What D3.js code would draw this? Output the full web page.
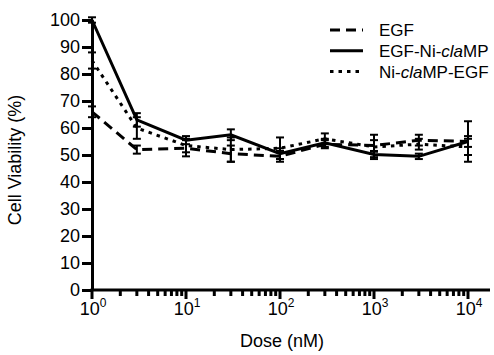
<!DOCTYPE html>
<html>
<head>
<style>
  body { margin: 0; background: #fff; }
  text { font-family: "Liberation Sans", Arial, sans-serif; fill: #000; }
</style>
<script src="https://d3js.org/d3.v7.min.js"></script>
</head>
<body>
<script>
// doses (nM), half-log steps
const doses = [1, 3, 10, 30, 100, 300, 1000, 3000, 10000];

const egf      = [66, 52, 52.5, 50.5, 49.5, 54, 53.5, 55.5, 55];
const egfErr   = [2, 1.5, 3, 3, 2, 1.5, 2, 2, 2];
const egfNi    = [100, 63, 55.5, 57.5, 50.5, 54.5, 50.2, 49.5, 55];
const egfNiErr = [1, 2.5, 1.5, 2, 2, 1.5, 1, 1, 7.5];
const niEgf    = [85, 60, 53.5, 52, 52.5, 56, 53, 54, 53];
const niEgfErr = [3, 4, 2.5, 4.5, 4, 2, 4.5, 2, 3];

const yTicks = [0, 10, 20, 30, 40, 50, 60, 70, 80, 90, 100];
const xTicks = [1, 10, 100, 1000, 10000];

const series = [
  { name: 'EGF', vals: egf, err: egfErr, dash: '10,6' },
  { name: 'EGF-Ni-claMP', vals: egfNi, err: egfNiErr, dash: null },
  { name: 'Ni-claMP-EGF', vals: niEgf, err: niEgfErr, dash: '3.5,5' }
];

const width = 494, height = 355;
const svg = d3.select('body').append('svg')
  .attr('width', width).attr('height', height);

const x = d3.scaleLog().domain([1, 10000]).range([92, 468]);
const y = d3.scaleLinear().domain([0, 100]).range([290, 20]);

// plot lines
const line = d3.line().x((d, i) => x(doses[i])).y(d => y(d));
series.forEach(s => {
  svg.append('path')
    .datum(s.vals)
    .attr('d', line)
    .attr('fill', 'none')
    .attr('stroke', '#000')
    .attr('stroke-width', 3)
    .attr('stroke-dasharray', s.dash);
  // error bars
  const g = svg.append('g').attr('stroke', '#000').attr('stroke-width', 2);
  s.vals.forEach((v, i) => {
    const cx = x(doses[i]);
    const lo = y(v - s.err[i]), hi = y(v + s.err[i]);
    g.append('line').attr('x1', cx).attr('x2', cx).attr('y1', lo).attr('y2', hi);
    g.append('line').attr('x1', cx - 4).attr('x2', cx + 4).attr('y1', lo).attr('y2', lo);
    g.append('line').attr('x1', cx - 4).attr('x2', cx + 4).attr('y1', hi).attr('y2', hi);
  });
});

// y axis
const yAxis = svg.append('g').attr('transform', 'translate(92,0)')
  .call(d3.axisLeft(y).tickValues(yTicks).tickSize(10).tickSizeOuter(0).tickPadding(2));
yAxis.select('.domain').attr('stroke-width', 3);
yAxis.selectAll('.tick line').attr('stroke-width', 3);
yAxis.selectAll('.tick text').style('font-size', '18px');

// x axis: minor ticks then major
const minor = [];
for (let e = 0; e < 4; e++) for (let m = 2; m <= 9; m++) minor.push(m * Math.pow(10, e));
const xg = svg.append('g').attr('transform', 'translate(0,290)');
xg.append('line').attr('x1', 90.5).attr('x2', 490).attr('y1', 0).attr('y2', 0)
  .attr('stroke', '#000').attr('stroke-width', 3);
xg.selectAll('.minor').data(minor).enter().append('line')
  .attr('x1', d => x(d)).attr('x2', d => x(d)).attr('y1', 0).attr('y2', 6)
  .attr('stroke', '#000').attr('stroke-width', 3);
xg.selectAll('.major').data(xTicks).enter().append('line')
  .attr('x1', d => x(d)).attr('x2', d => x(d)).attr('y1', 0).attr('y2', 9)
  .attr('stroke', '#000').attr('stroke-width', 3);
const lab = xg.selectAll('.lab').data(xTicks).enter().append('text')
  .attr('x', d => x(d) + 1).attr('y', 25)
  .attr('text-anchor', 'middle').style('font-size', '18px');
lab.append('tspan').text('10');
lab.append('tspan').attr('dy', -8).style('font-size', '12px').text(d => Math.round(Math.log10(d)));

// axis titles
svg.append('text').attr('x', 282).attr('y', 347).attr('text-anchor', 'middle')
  .style('font-size', '18px').text('Dose (nM)');
svg.append('text').attr('transform', 'translate(21,160) rotate(-90)')
  .attr('text-anchor', 'middle').style('font-size', '18px').text('Cell Viability (%)');

// legend
const leg = svg.append('g');
series.forEach((s, i) => {
  const ly = 30 + i * 20.8;
  leg.append('line').attr('x1', 330).attr('x2', 363).attr('y1', ly).attr('y2', ly)
    .attr('stroke', '#000').attr('stroke-width', 3).attr('stroke-dasharray', s.dash);
  const t = leg.append('text').attr('x', 379).attr('y', ly + 6).style('font-size', '17px');
  const parts = s.name.split('cla');
  if (parts.length === 1) t.text(s.name);
  else {
    t.append('tspan').text(parts[0]);
    t.append('tspan').style('font-style', 'italic').text('cla');
    t.append('tspan').text(parts[1]);
  }
});
</script>
</body>
</html>
